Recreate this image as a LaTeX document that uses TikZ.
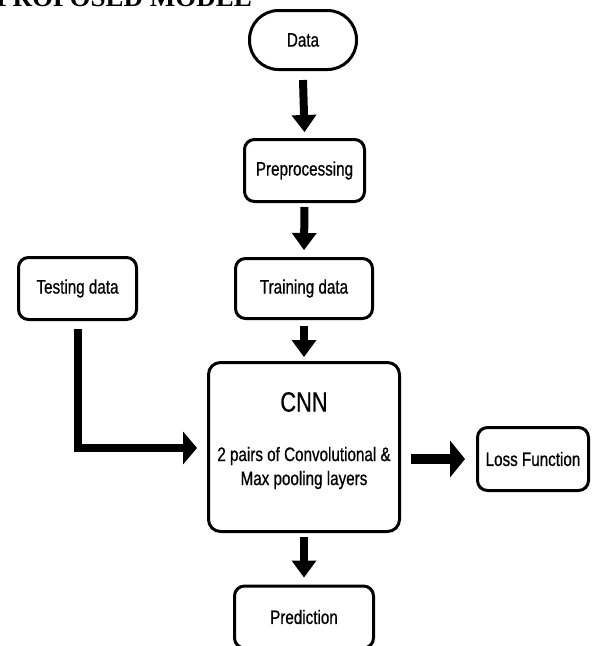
\documentclass[tikz,border=0pt]{standalone}
\usepackage{fontspec}
\setmainfont{Liberation Sans}
\newfontfamily\boxfont[FakeStretch=0.78,FakeBold=0.7]{Liberation Sans}
\newfontfamily\titlefont{Liberation Serif}
\usetikzlibrary{arrows.meta,calc}
\begin{document}
\begin{tikzpicture}[x=1pt,y=-1pt,
  box/.style={draw,line width=3pt,rounded corners=10pt,inner sep=0pt,align=center,
    font=\boxfont\fontsize{19.5}{24}\selectfont},
  lbl/.style={inner sep=0pt,align=center,font=\boxfont\fontsize{19.5}{24}\selectfont},
  flow/.style={line width=8pt,line join=miter,-{Triangle[length=17pt,width=25pt,line width=0pt]}},
]
\useasboundingbox (0,0) rectangle (592,646);
\clip (0,0) rectangle (592,646);
\node[anchor=base east,inner sep=0pt,font=\titlefont\bfseries\fontsize{27}{30}\selectfont] (title) at (252,6) {PROPOSED MODEL};

\node[box,minimum width=107pt,minimum height=59pt,rounded corners=29pt] (data) at (303,40) {Data};
\node[box,minimum width=120pt,minimum height=62pt] (pre) at (304.5,170.5) {Preprocessing};
\node[box,minimum width=137pt,minimum height=60pt] (train) at (304,288.5) {Training data};
\node[box,minimum width=118pt,minimum height=62pt] (test) at (77.5,288.5) {Testing data};
\node[box,minimum width=191pt,minimum height=169pt,rounded corners=12pt] (cnn) at (304,447) {};
\node[lbl,font=\boxfont\fontsize{28}{30}\selectfont] (cnnt) at (304,402) {CNN};
\node[lbl] (cnns) at (304,468) {2 pairs of Convolutional \&\\Max pooling layers};
\node[box,minimum width=111pt,minimum height=63pt] (loss) at (533,459) {Loss Function};
\node[box,minimum width=139pt,minimum height=62pt] (pred) at (304,617) {Prediction};

\draw[flow] ($(data.south)+(0,9)$) -- ($(pre.north)+(0,-6)$);
\draw[flow] ($(pre.south)+(0,4)$) -- ($(train.north)+(0,-7)$);
\draw[flow] ($(train.south)+(0,6)$) -- ($(cnn.north)+(0,-4)$);
\draw[flow] ($(cnn.south)+(0,4)$) -- ($(pred.north)+(0,-7)$);
\draw[flow,-{Triangle[length=14pt,width=33pt,line width=0pt]}]
  ($(test.south)+(0,8)$) |- ($(cnn.west)+(-10,1)$);
\draw[flow,line width=10pt,-{Triangle[length=15pt,width=37pt,line width=0pt]}]
  ($(cnn.east |- loss.west)+(10,0)$) -- ($(loss.west)+(-11,0)$);
\end{tikzpicture}
\end{document}
